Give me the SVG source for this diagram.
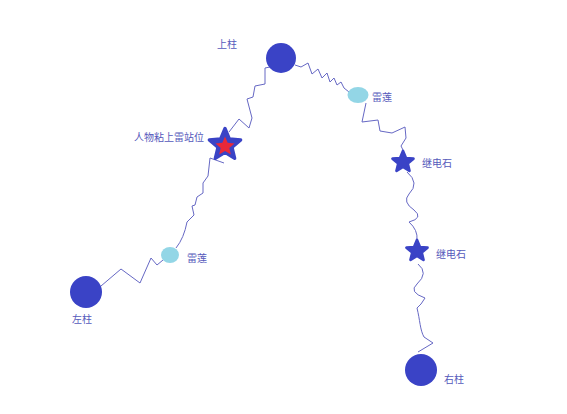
<svg xmlns="http://www.w3.org/2000/svg" width="567" height="414" viewBox="0 0 567 414">
<style>
.lbl{font-family:"Noto Sans CJK SC","Noto Sans",sans-serif;font-size:10px;fill:#5559bb}
.pillar{fill:#3a43c6}
.lotus{fill:#93d6e6}
.relay{fill:#3a43c6;stroke:#3a43c6;stroke-linejoin:round}
.conn{fill:none;stroke:#6668c4;stroke-width:1;stroke-linejoin:miter}
</style>
<defs>
<polygon id="star" points="0,-1 0.2645,-0.364 0.9511,-0.309 0.428,0.139 0.5878,0.809 0,0.45 -0.5878,0.809 -0.428,0.139 -0.9511,-0.309 -0.2645,-0.364"/>
</defs>
<rect width="567" height="414" fill="#ffffff"/>
<g id="connectors">
<polyline class="conn" points="101,286 121,269 140,283 151,258 157,265 163,260"/>
<path class="conn" d="M176,248 Q184,238 187,222 L194,215 L192,206 L195,205 L197,197 L203,193 L203,183 L208,176 L210,158 L224,163"/>
<polyline class="conn" points="229,132 239,119 249,128 252,118 247,99 253,97 255,86 265,84 265,68 270,67"/>
<polyline class="conn" points="295,65 301,67 308,63 312,74 318,69 322,78 327,73 330,82 334,78 337,85 341,82 344,88 349,92"/>
<polyline class="conn" points="366,103 362,122 378,120 380,131 392,133 405,127 406,138 401,146 403,150"/>
<path class="conn" d="M407,172 Q420,183 409,194 Q402,202 414,210 Q424,218 409,222 Q418,230 417,240"/>
<path class="conn" d="M418,264 Q429,273 417,284 Q408,292 425,298 Q421,305 417,308 C420,320 420,330 424,337 L433,343 L418,352"/>
</g>
<g id="node-left-pillar">
<circle class="pillar" cx="86" cy="292" r="16"/>
<text class="lbl" x="72" y="323">左柱</text>
</g>
<g id="node-left-lotus">
<ellipse class="lotus" cx="170" cy="255" rx="9" ry="8"/>
<text class="lbl" x="187" y="262">雷莲</text>
</g>
<g id="node-stand">
<use href="#star" class="relay" transform="translate(225,145) scale(16.5)" stroke-width="0.2"/>
<use href="#star" transform="translate(225,146.5) scale(10)" fill="#e8283a"/>
<text class="lbl" x="204" y="141" text-anchor="end">人物粘上雷站位</text>
</g>
<g id="node-top-pillar">
<circle class="pillar" cx="281" cy="58" r="15"/>
<text class="lbl" x="217" y="48">上柱</text>
</g>
<g id="node-right-lotus">
<ellipse class="lotus" cx="358" cy="95" rx="10.5" ry="8"/>
<text class="lbl" x="372" y="101">雷莲</text>
</g>
<g id="node-relay-1">
<use href="#star" class="relay" transform="translate(403,162) scale(11)" stroke-width="0.25"/>
<text class="lbl" x="422" y="167">继电石</text>
</g>
<g id="node-relay-2">
<use href="#star" class="relay" transform="translate(417,251) scale(11)" stroke-width="0.25"/>
<text class="lbl" x="436" y="258">继电石</text>
</g>
<g id="node-right-pillar">
<circle class="pillar" cx="421" cy="370" r="16"/>
<text class="lbl" x="444" y="383">右柱</text>
</g>
</svg>
